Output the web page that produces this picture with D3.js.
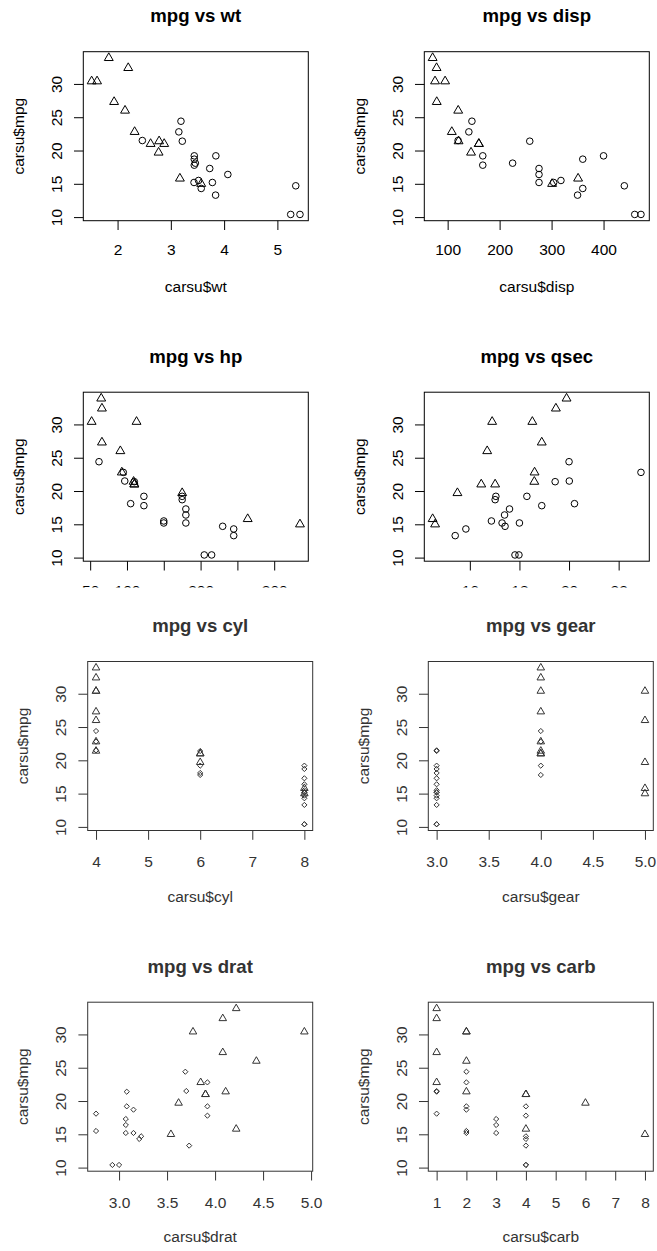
<!DOCTYPE html>
<html>
<head>
<meta charset="utf-8">
<script src="https://cdn.jsdelivr.net/npm/d3@7"></script>
<style>
	body{ margin:0; background:#fff; }
	svg text{ font-family: "Liberation Sans", Arial, sans-serif; }
</style>
</head>
<body>
<svg id="chart" width="657" height="1251"></svg>
<script>

// mtcars, in the usual row order.
let mpg  = [21.0,21.0,22.8,21.4,18.7,18.1,14.3,24.4,22.8,19.2,17.8,16.4,17.3,15.2,10.4,10.4,14.7,32.4,30.4,33.9,21.5,15.5,15.2,13.3,19.2,27.3,26.0,30.4,15.8,19.7,15.0,21.4];
let cyl  = [6,6,4,6,8,6,8,4,4,6,6,8,8,8,8,8,8,4,4,4,4,8,8,8,8,4,4,4,8,6,8,4];
let disp = [160,160,108,258,360,225,360,146.7,140.8,167.6,167.6,275.8,275.8,275.8,472,460,440,78.7,75.7,71.1,120.1,318,304,350,400,79,120.3,95.1,351,145,301,121];
let hp   = [110,110,93,110,175,105,245,62,95,123,123,180,180,180,205,215,230,66,52,65,97,150,150,245,175,66,91,113,264,175,335,109];
let drat = [3.90,3.90,3.85,3.08,3.15,2.76,3.21,3.69,3.92,3.92,3.92,3.07,3.07,3.07,2.93,3.00,3.23,4.08,4.93,4.22,3.70,2.76,3.15,3.73,3.08,4.08,4.43,3.77,4.22,3.62,3.54,4.11];
let wt   = [2.620,2.875,2.320,3.215,3.440,3.460,3.570,3.190,3.150,3.440,3.440,4.070,3.730,3.780,5.250,5.424,5.345,2.200,1.615,1.835,2.465,3.520,3.435,3.840,3.845,1.935,2.140,1.513,3.170,2.770,3.570,2.780];
let qsec = [16.46,17.02,18.61,19.44,17.02,20.22,15.84,20.00,22.90,18.30,18.90,17.40,17.60,18.00,17.98,17.82,17.42,19.47,18.52,19.90,20.01,16.87,17.30,15.41,17.05,18.90,16.70,16.90,14.50,15.50,14.60,18.60];
let am   = [1,1,1,0,0,0,0,0,0,0,0,0,0,0,0,0,0,1,1,1,0,0,0,0,0,1,1,1,1,1,1,1];
let gear = [4,4,4,3,3,3,3,4,4,4,4,3,3,3,3,3,3,4,4,4,3,3,3,3,3,4,5,5,5,5,5,4];
let carb = [4,4,1,1,2,1,4,2,2,4,4,3,3,3,4,4,4,1,2,1,1,2,2,4,2,1,2,2,4,6,8,2];

// Tick values and labels. Empty label = R dropped it because it would overlap.
let mpgTicks  = [10,15,20,25,30];
let wtTicks   = [2,3,4,5];
let dispTicks = [100,200,300,400];
let hpTicks   = [50,100,150,200,250,300];
let hpLabels  = ["50","100","","200","","300"];
let qsecTicks = [16,18,20,22];
let cylTicks  = [4,5,6,7,8];
let gearTicks = [3,3.5,4,4.5,5];
let dratTicks = [3,3.5,4,4.5,5];
let carbTicks = [1,2,3,4,5,6,7,8];


// Two looks: the top two rows come from one screenshot, the bottom two from another.
let looks = {
	A: {color: "#000", tickText: 34.5, r0: 3.3, r1: 3.3, shape0: "circle"},
	B: {color: "#333", tickText: 36.7, r0: 2.6, r1: 2.8, shape0: "diamond"}
};

let W = 225, H = 169;

// The second row is cut off just under its tick marks, so its x titles never show.
let panels = [
	{name: "wt",   x: wt,   ticks: wtTicks,   left: 83.3,  top: 51.7,   look: "A"},
	{name: "disp", x: disp, ticks: dispTicks, left: 424.3, top: 51.7,   look: "A"},
	{name: "hp",   x: hp,   ticks: hpTicks,   labels: hpLabels, left: 83.3,  top: 392.2, look: "A", clip: true},
	{name: "qsec", x: qsec, ticks: qsecTicks, left: 424.3, top: 392.2, look: "A", clip: true},
	{name: "cyl",  x: cyl,  ticks: cylTicks,  left: 87.7,  top: 661.5,  look: "B"},
	{name: "gear", x: gear, ticks: gearTicks, fmt: d3.format(".1f"), left: 428.3, top: 661.5, look: "B"},
	{name: "drat", x: drat, ticks: dratTicks, fmt: d3.format(".1f"), left: 87.7,  top: 1002.2, look: "B"},
	{name: "carb", x: carb, ticks: carbTicks, left: 428.3, top: 1002.2, look: "B"}
];


// R pads the data range by 4% on each side.
function rdomain(v){
	let e = d3.extent(v);
	let pad = (e[1]-e[0])*0.04;
	return [e[0]-pad, e[1]+pad];
} // rdomain


function symbol(shape, r){
	// Path centred on 0,0.
	if(shape == "circle"){
		return `M${-r},0A${r},${r} 0 1,0 ${r},0A${r},${r} 0 1,0 ${-r},0Z`;
	} else if(shape == "diamond"){
		return `M0,${-r}L${r},0L0,${r}L${-r},0Z`;
	} else {
		// pch 2 geometry
		let top = 1.555*r, half = 1.347*r, low = 0.778*r;
		return `M0,${-top}L${half},${low}L${-half},${low}Z`;
	} // if
} // symbol


let svg = d3.select("#chart");
svg.append("rect").attr("width", 657).attr("height", 1251).attr("fill", "#fff");

svg.append("clipPath")
	.attr("id", "row2clip")
  .append("rect")
	.attr("x", 0).attr("y", 0)
	.attr("width", 657).attr("height", 587.5);


panels.forEach(p=>{
	let look = looks[p.look];
	
	let g = svg.append("g");
	if(p.clip){ g.attr("clip-path", "url(#row2clip)"); }
	
	let x = d3.scaleLinear().domain( rdomain(p.x) ).range([p.left, p.left + W]);
	let y = d3.scaleLinear().domain( rdomain(mpg) ).range([p.top + H, p.top]);
	
	
	// Title
	g.append("text")
		.attr("x", p.left + W/2)
		.attr("y", p.top - 29.5)
		.attr("text-anchor", "middle")
		.attr("font-weight", "bold")
		.attr("font-size", 18.6)
		.attr("fill", look.color)
		.text(`mpg vs ${p.name}`);
	
	
	// x axis
	let xaxis = d3.axisBottom(x)
		.tickValues(p.ticks)
		.tickSize(9.3)
		.tickSizeOuter(0)
		.tickFormat((d,i)=>p.labels ? p.labels[i] : (p.fmt ? p.fmt(d) : d));
	let gx = g.append("g")
		.attr("transform", `translate(0,${p.top + H})`)
		.call(xaxis);
	gx.select(".domain").remove();
	gx.selectAll("line").attr("stroke", look.color);
	gx.selectAll("text")
		.attr("y", look.tickText)
		.attr("dy", null)
		.attr("font-size", 15.5)
		.attr("font-family", null)
		.attr("fill", look.color);
	
	
	// y axis, labels turned like R's las=0
	let yaxis = d3.axisLeft(y)
		.tickValues(mpgTicks)
		.tickSize(9.3)
		.tickSizeOuter(0);
	let gy = g.append("g")
		.attr("transform", `translate(${p.left},0)`)
		.call(yaxis);
	gy.select(".domain").remove();
	gy.selectAll("line").attr("stroke", look.color);
	gy.selectAll("text")
		.attr("x", null)
		.attr("dy", null)
		.attr("transform", "translate(-21.5,0) rotate(-90)")
		.attr("text-anchor", "middle")
		.attr("font-size", 15.5)
		.attr("font-family", null)
		.attr("fill", look.color);
	
	
	// Axis titles
	if(!p.clip){
		g.append("text")
			.attr("x", p.left + W/2)
			.attr("y", p.top + H + 71)
			.attr("text-anchor", "middle")
			.attr("font-size", 15.5)
			.attr("fill", look.color)
			.text(`carsu$${p.name}`);
	} // if
	g.append("text")
		.attr("transform", `translate(${p.left - 59.5},${p.top + H/2}) rotate(-90)`)
		.attr("text-anchor", "middle")
		.attr("font-size", 15.5)
		.attr("fill", look.color)
		.text("carsu$mpg");
	
	
	// Points
	g.selectAll("path.pt")
		.data(mpg.map((m,i)=>({x: p.x[i], y: m, am: am[i]})))
		.enter()
	  .append("path")
		.attr("class", "pt")
		.attr("transform", d=>`translate(${x(d.x)},${y(d.y)})`)
		.attr("d", d=>d.am ? symbol("triangle", look.r1) : symbol(look.shape0, look.r0))
		.attr("fill", "none")
		.attr("stroke", look.color)
		.attr("stroke-width", 1);
	
	
	// Box
	g.append("rect")
		.attr("x", p.left)
		.attr("y", p.top)
		.attr("width", W)
		.attr("height", H)
		.attr("fill", "none")
		.attr("stroke", look.color)
		.attr("stroke-width", 1);
	
}) // forEach

</script>
</body>
</html>
